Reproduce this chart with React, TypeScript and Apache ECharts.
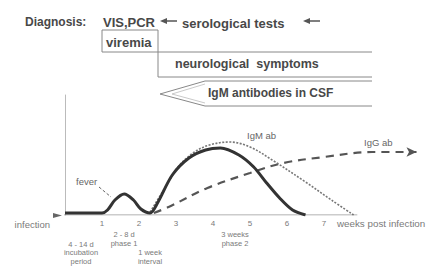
import React, { useEffect, useRef } from "react";
import * as echarts from "echarts";

// x = weeks post infection, y = relative level
const virusWeeks = [0, 1.0, 1.15, 1.35, 1.6, 1.85, 2.05, 2.3, 2.5, 2.9, 3.35, 3.8, 4.2, 4.7, 5.1, 5.45, 5.8, 6.15, 6.5];
const virusLevel = [2, 2, 5, 15, 21, 15, 6, 2, 12, 40, 57, 65, 67, 60, 48, 32, 17, 5, 0];

const igmWeeks = [2.3, 2.7, 3.1, 3.5, 3.9, 4.45, 5.0, 5.6, 6.5, 7.2, 7.8];
const igmLevel = [3, 27, 50, 63, 70, 73, 68, 55, 33, 15, 0];

const iggWeeks = [2.4, 2.8, 3.85, 5.0, 5.9, 7.0, 8.3, 9.5];
const iggLevel = [2, 8, 27, 42, 52, 58, 63, 63];

const baselineWeeks = [-0.08, 7.9];
const baselineLevel = [0, 0];

const tickWeeks = [1, 2, 3, 4, 5, 6, 7];

const FONT = "'Liberation Sans', Arial, sans-serif";
const TEXT_DARK = "#484848";
const TEXT_LIGHT = "#7a7a7a";
const LINE_GRAY = "#888";

function pairs(xs: number[], ys: number[]) {
  return xs.map((x, i) => [x, ys[i]]);
}

function txt(text: string, x: number, y: number, size: number, opts: any = {}) {
  return {
    type: "text",
    x,
    y,
    silent: true,
    style: {
      text,
      font: `${opts.bold ? "bold " : ""}${size}px ${FONT}`,
      fill: opts.color || TEXT_DARK,
      textAlign: opts.align || "left",
      align: opts.align || "left",
      textVerticalAlign: opts.valign || "middle",
      verticalAlign: opts.valign || "middle",
      lineHeight: opts.lineHeight,
    },
  };
}

function arrowLeft(x: number, y: number) {
  return [
    { type: "polygon", silent: true, shape: { points: [[x, y], [x + 7, y - 3], [x + 7, y + 3]] }, style: { fill: "#555" } },
    { type: "line", silent: true, shape: { x1: x + 6, y1: y, x2: x + 17, y2: y }, style: { stroke: "#555", lineWidth: 1.5 } },
  ];
}

export default function App() {
  const ref = useRef<HTMLDivElement>(null);

  useEffect(() => {
    if (!ref.current) return;
    const chart = echarts.init(ref.current, undefined, { renderer: "svg" });

    const iggData: any[] = pairs(iggWeeks, iggLevel).map((p, i, arr) =>
      i === arr.length - 1
        ? { value: p, symbol: "arrow", symbolSize: [7, 10], symbolRotate: -90, itemStyle: { color: "#555" } }
        : { value: p, symbol: "none" }
    );

    const graphic: any[] = [
      // header
      txt("Diagnosis:", 25, 22, 12, { bold: true }),
      txt("VIS,PCR", 103, 22, 13, { bold: true }),
      ...arrowLeft(160, 21),
      txt("serological tests", 182, 23, 13, { bold: true }),
      ...arrowLeft(303, 21),
      // viremia box
      { type: "rect", silent: true, shape: { x: 102, y: 30, width: 56, height: 22 }, style: { fill: "none", stroke: LINE_GRAY, lineWidth: 1 } },
      txt("viremia", 106, 42, 13, { bold: true }),
      // neurological box
      { type: "polyline", silent: true, shape: { points: [[372, 52], [158, 52], [158, 77], [372, 77]] }, style: { fill: "none", stroke: LINE_GRAY, lineWidth: 1 } },
      txt("neurological  symptoms", 175, 64, 12.5, { bold: true }),
      // IgM wedge
      { type: "polyline", silent: true, shape: { points: [[372, 81], [205, 81], [160, 94], [205, 106], [372, 106]] }, style: { fill: "none", stroke: LINE_GRAY, lineWidth: 1 } },
      { type: "polyline", silent: true, shape: { points: [[205, 84], [172, 94], [205, 103]] }, style: { fill: "none", stroke: "#bbb", lineWidth: 0.8 } },
      txt("IgM antibodies in CSF", 208, 93, 12, { bold: true }),
      // chart annotations
      txt("fever", 76, 181, 9.5, { color: "#666" }),
      { type: "line", silent: true, shape: { x1: 99, y1: 187, x2: 111, y2: 197 }, style: { stroke: "#666", lineWidth: 1, lineDash: [3, 2] } },
      txt("IgM ab", 247, 135, 9.5, { color: "#666" }),
      txt("IgG ab", 364, 142, 9.5, { color: "#666" }),
      txt("infection", 50, 224, 9.5, { color: TEXT_LIGHT, align: "right" }),
      { type: "polygon", silent: true, shape: { points: [[53, 213], [62, 215.5], [53, 218]] }, style: { fill: "#666" } },
      txt("weeks post infection", 337, 223, 9.8, { color: TEXT_LIGHT }),
      txt("4 - 14 d\nincubation\nperiod", 81, 240, 7.5, { color: TEXT_LIGHT, align: "center", valign: "top", lineHeight: 8.5 }),
      txt("2 - 8 d\nphase 1", 124, 229.5, 7.5, { color: TEXT_LIGHT, align: "center", valign: "top", lineHeight: 9 }),
      txt("1 week\ninterval", 150, 248.5, 7.5, { color: TEXT_LIGHT, align: "center", valign: "top", lineHeight: 8.5 }),
      txt("3 weeks\nphase 2", 235, 229.5, 7.5, { color: TEXT_LIGHT, align: "center", valign: "top", lineHeight: 9 }),
    ];

    chart.setOption({
      animation: false,
      backgroundColor: "#fff",
      grid: { left: 65, right: 7.8, top: 95, bottom: 65, containLabel: false },
      xAxis: {
        type: "value",
        min: 0,
        max: 9.6,
        interval: 1,
        axisLine: { show: false },
        axisTick: { show: false },
        splitLine: { show: false },
        axisLabel: {
          show: true,
          showMaxLabel: false,
          margin: 4,
          fontSize: 8,
          fontFamily: FONT,
          color: TEXT_LIGHT,
          formatter: (v: number) => (tickWeeks.indexOf(v) >= 0 ? String(v) : ""),
        },
      },
      yAxis: {
        type: "value",
        min: 0,
        max: 120,
        axisLine: { show: true, lineStyle: { color: "#bbb", width: 1 } },
        axisTick: { show: false },
        axisLabel: { show: false },
        splitLine: { show: false },
      },
      series: [
        {
          type: "line",
          data: pairs(baselineWeeks, baselineLevel),
          symbol: "none",
          silent: true,
          lineStyle: { color: "#999", width: 1 },
          z: 1,
        },
        {
          name: "IgG ab",
          type: "line",
          data: iggData,
          showSymbol: true,
          smooth: 0.35,
          silent: true,
          lineStyle: { color: "#555", width: 2.2, type: [8, 6] },
          z: 2,
        },
        {
          name: "IgM ab",
          type: "line",
          data: pairs(igmWeeks, igmLevel),
          symbol: "none",
          smooth: 0.35,
          silent: true,
          lineStyle: { color: "#777", width: 1.6, type: [2, 1.5] },
          z: 3,
        },
        {
          name: "virus",
          type: "line",
          data: pairs(virusWeeks, virusLevel),
          symbol: "none",
          smooth: 0.3,
          silent: true,
          lineStyle: { color: "#333", width: 3 },
          z: 4,
        },
      ],
      graphic,
    });

    return () => chart.dispose();
  }, []);

  return (
    <div
      ref={ref}
      style={{ position: "fixed", left: 0, top: 0, width: 428, height: 280, background: "#fff" }}
    />
  );
}
